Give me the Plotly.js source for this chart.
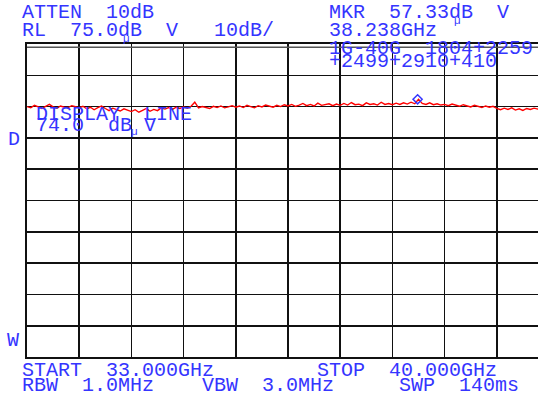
<!DOCTYPE html>
<html>
<head>
<meta charset="utf-8">
<script src="https://cdn.plot.ly/plotly-3.0.1.min.js"></script>
<style>html,body{margin:0;padding:0;background:#fff;}#chart{width:538px;height:400px;}</style>
</head>
<body>
<div id="chart"></div>
<script>
const START_GHZ = 33.0;
const STOP_GHZ = 40.0;
const STEP_GHZ = 0.05;
const REF_LEVEL = 75.0;      // dBuV
const DB_PER_DIV = 10;
const DISPLAY_LINE = 74.0;   // dBuV
const MKR_FREQ = 38.238;     // GHz
const MKR_LEVEL = 57.33;     // dBuV

// trace levels (dBuV), one per 0.05 GHz from 33.00 to 40.00
const levels = [
  55.0, 54.6, 55.4, 54.8, 54.4, 55.1, 55.7, 54.9, 54.5, 55.2, 54.8, 54.7, 55.3, 55.0,
  54.6, 55.1, 54.3, 54.8, 54.0, 54.7, 55.2, 54.4, 53.7, 54.5, 54.1, 53.6, 54.3, 53.8,
  53.4, 54.0, 53.2, 53.8, 54.4, 53.5, 54.1, 53.7, 54.6, 54.2, 54.7, 54.1, 54.8, 54.4,
  54.9, 54.5, 55.1, 56.4, 54.6, 55.0, 54.8, 54.4, 55.1, 54.7, 55.2, 54.6, 54.9, 55.3,
  54.8, 55.2, 54.7, 55.4, 55.0, 54.6, 55.3, 54.9, 55.5, 55.1, 54.8, 55.4, 55.0, 55.6,
  55.2, 55.7, 55.1, 55.5, 56.0, 55.3, 55.7, 55.2, 56.1, 55.4, 55.6, 55.9, 55.3, 55.8,
  55.4, 56.0, 55.5, 56.3, 55.6, 55.8, 55.3, 56.2, 55.7, 55.9, 55.5, 56.4, 55.7, 56.0,
  55.6, 56.1, 55.7, 56.2, 55.8, 56.4, 55.9, 57.3, 56.0, 55.7, 56.2, 55.6, 55.9, 55.5,
  55.7, 55.3, 55.8, 55.4, 55.1, 55.6, 55.2, 54.9, 55.4, 55.0, 54.7, 55.2, 54.8, 55.1,
  54.4, 54.0, 54.5, 54.1, 54.6, 53.9, 54.3, 53.8, 54.4, 54.1, 54.5, 54.2, 54.7, 54.3,
  54.4
];

// screen text
const topLeft = ["ATTEN  10dB", "RL  75.0dB  V   10dB/"];
const topRight = ["MKR  57.33dB  V", "38.238GHz", "1G-40G  1804+2259", "+2499+2910+410"];
const dispText = ["DISPLAY  LINE", "74.0  dB V"];
const sideText = ["D", "W"];
const bottomText = ["START  33.000GHz", "STOP  40.000GHz", "RBW  1.0MHz", "VBW  3.0MHz", "SWP  140ms"];

// ---- layout geometry ----
const W = 538, H = 400;
const M = {l: 27, r: 0, t: 44, b: 43};
const PW = W - M.l - M.r, PH = H - M.t - M.b;
const PX_PER_DIV = 52.2;
const DIV_GHZ = (STOP_GHZ - START_GHZ) / 10;
const xEnd = START_GHZ + PW / PX_PER_DIV * DIV_GHZ;

const px = x => (x - M.l) / PW;
const py = y => (H - M.b - y) / PH;

const BLUE = "#3535ff";
const FONT = "Liberation Mono";

function txt(t, x, y, size) {
  return {text: t, x: px(x), y: py(y), xref: "paper", yref: "paper",
          xanchor: "left", yanchor: "middle", showarrow: false, borderpad: 0,
          font: {family: FONT, size: size || 20, color: BLUE}};
}

const annotations = [
  txt(topLeft[0], 21, 13),
  txt(topLeft[1], 21, 30),
  txt(topRight[0], 328, 13),
  txt(topRight[1], 328, 30),
  txt(topRight[2], 328, 49),
  txt(topRight[3], 328, 62),
  txt(dispText[0], 35, 114),
  txt(dispText[1], 35, 126),
  txt(sideText[0], 7, 139),
  txt(sideText[1], 6, 340),
  txt(bottomText[0], 21, 370),
  txt(bottomText[1], 316, 370),
  txt(bottomText[2], 21, 385),
  txt(bottomText[3], 201, 385),
  txt(bottomText[4], 398, 385),
  txt("\u00b5", 122, 39, 11),
  txt("\u00b5", 453, 21, 11),
  txt("\u00b5", 130, 132, 11)
];

const traces = [
  {
    type: "scatter", mode: "lines",
    x0: START_GHZ, dx: STEP_GHZ, y: levels,
    line: {color: "#ff0000", width: 1.4},
    hoverinfo: "skip"
  },
  {
    type: "scatter", mode: "markers",
    x: [MKR_FREQ], y: [MKR_LEVEL],
    marker: {symbol: "diamond-open", size: 7, color: BLUE, line: {width: 1.5, color: BLUE}},
    hoverinfo: "skip"
  }
];

const layout = {
  width: W, height: H,
  margin: M,
  paper_bgcolor: "#fff", plot_bgcolor: "#fff",
  showlegend: false,
  xaxis: {
    range: [START_GHZ, xEnd], tick0: START_GHZ, dtick: DIV_GHZ,
    showgrid: true, gridcolor: "#111", gridwidth: 1.6,
    showticklabels: false, ticks: "", zeroline: false,
    showline: true, linecolor: "#111", linewidth: 2, mirror: true
  },
  yaxis: {
    range: [REF_LEVEL - 10 * DB_PER_DIV, REF_LEVEL], tick0: REF_LEVEL, dtick: DB_PER_DIV,
    showgrid: true, gridcolor: "#111", gridwidth: 1.6,
    showticklabels: false, ticks: "", zeroline: false,
    showline: true, linecolor: "#111", linewidth: 2
  },
  shapes: [
    {type: "line", xref: "paper", yref: "y", x0: 0, x1: 1, y0: DISPLAY_LINE, y1: DISPLAY_LINE,
     line: {color: "#555", width: 1.5}}
  ],
  annotations: annotations
};

Plotly.newPlot("chart", traces, layout, {staticPlot: true, displayModeBar: false});
</script>
</body>
</html>
